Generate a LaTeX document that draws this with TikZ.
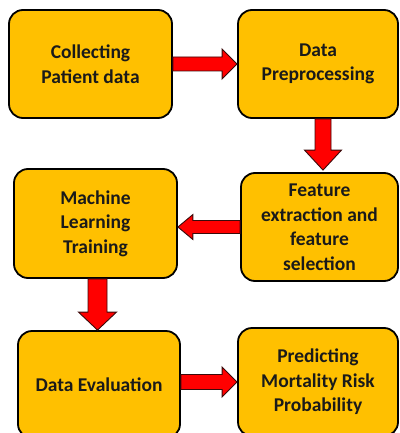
\documentclass[tikz,border=0pt]{standalone}
\usepackage{fontspec}
\setmainfont{Carlito}
\usetikzlibrary{calc}
\definecolor{boxfill}{HTML}{FFC000}
\definecolor{arrowred}{HTML}{FF0000}
\definecolor{arrowedge}{HTML}{3A0A0A}
\definecolor{txt}{HTML}{1A1A1A}
\tikzset{
  box/.style={draw=black, line width=1.8pt, fill=boxfill, rounded corners=14pt,
    align=center, text=txt, font=\fontsize{19.5}{24.5}\selectfont\bfseries,
    inner sep=0pt},
  blockarrow/.style={draw=arrowedge, line width=0.9pt, fill=arrowred, line join=miter},
}
% horizontal block arrow: start, tip, head offset (signed), shaft half, head half
\newcommand{\hblock}[5]{%
  \draw[blockarrow] ($(#1)+(0,#4)$) -- ($(#2)+(#3,#4)$) -- ($(#2)+(#3,#5)$) -- (#2)
    -- ($(#2)+(#3,-#5)$) -- ($(#2)+(#3,-#4)$) -- ($(#1)+(0,-#4)$) -- cycle;}
% vertical block arrow: start, tip, head offset (signed), shaft half, head half
\newcommand{\vblock}[5]{%
  \draw[blockarrow] ($(#1)+(#4,0)$) -- ($(#2)+(#4,#3)$) -- ($(#2)+(#5,#3)$) -- (#2)
    -- ($(#2)+(-#5,#3)$) -- ($(#2)+(-#4,#3)$) -- ($(#1)+(-#4,0)$) -- cycle;}
\begin{document}
\begin{tikzpicture}[x=1pt,y=-1pt]
\useasboundingbox (0,0) rectangle (399,433);
\node[box, minimum width=163pt, minimum height=108pt] (n1) at (90.5,64) {Collecting\\Patient data};
\node[box, minimum width=160pt, minimum height=108pt] (n2) at (318,64) {Data\\Preprocessing};
\node[box, minimum width=157pt, minimum height=108pt] (n3) at (319.5,227) {Feature\\extraction and\\feature\\selection};
\node[box, minimum width=163pt, minimum height=109pt] (n4) at (95.5,223.5) {Machine\\Learning\\Training};
\node[box, minimum width=162pt, minimum height=107pt] (n5) at (99,384.5) {Data Evaluation};
\node[box, minimum width=160pt, minimum height=108pt] (n6) at (318,382) {Predicting\\Mortality Risk\\Probability};
% connectors
\coordinate (t12) at (n2.west);
\hblock{n1.east}{t12}{-15}{7}{15}
\coordinate (s23) at ($(n2.south)+(5,0)$);
\coordinate (t23) at ($(n3.north)+(3.5,-2)$);
\vblock{s23}{t23}{-20}{8}{18.5}
\coordinate (t34) at (n4.east |- n3.west);
\hblock{n3.west}{t34}{15}{6.5}{12.5}
\coordinate (s45) at ($(n4.south)+(2,0)$);
\coordinate (t45) at ($(n5.north)+(-1.5,0)$);
\vblock{s45}{t45}{-18}{9.5}{19}
\coordinate (s56) at (n5.east |- n6.west);
\hblock{s56}{n6.west}{-15}{7.5}{15}
\end{tikzpicture}
\end{document}
